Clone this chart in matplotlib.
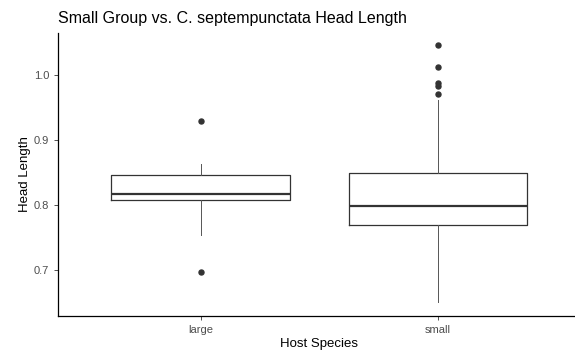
import matplotlib.pyplot as plt

plt.rcParams['font.family'] = ['Liberation Sans', 'DejaVu Sans']

groups = ['large', 'small']
q1 = [0.808, 0.769]
median = [0.817, 0.798]
q3 = [0.846, 0.849]
whisker_low = [0.754, 0.651]
whisker_high = [0.863, 0.9615]
outliers = [[0.929, 0.6965], [1.0457, 1.012, 0.988, 0.983, 0.971]]

stats = []
for i, g in enumerate(groups):
    stats.append(dict(label=g, q1=q1[i], med=median[i], q3=q3[i],
                      whislo=whisker_low[i], whishi=whisker_high[i],
                      fliers=outliers[i]))

fig = plt.figure(figsize=(5.75, 3.54), dpi=100)
ax = fig.add_axes([58 / 575, 38 / 354, (575 - 58) / 575 + 0.01, (316 - 33) / 354])

ax.bxp(stats, positions=[1, 2], widths=0.75, showcaps=False,
       boxprops=dict(color='#333333', linewidth=0.9),
       medianprops=dict(color='#333333', linewidth=1.6),
       whiskerprops=dict(color='#555555', linewidth=0.7),
       flierprops=dict(marker='o', markersize=3.6, markerfacecolor='#333333',
                       markeredgecolor='#333333'))

ax.set_xlim(0.4, 2.6)
ax.set_ylim(0.629, 1.0646)
ax.set_yticks([0.7, 0.8, 0.9, 1.0])
ax.set_yticklabels(['0.7', '0.8', '0.9', '1.0'])
ax.set_xticks([1, 2])
ax.set_xticklabels(groups)

for side in ['top', 'right']:
    ax.spines[side].set_visible(False)
for side in ['left', 'bottom']:
    ax.spines[side].set_linewidth(0.9)
    ax.spines[side].set_color('black')

ax.tick_params(axis='both', colors='#333333', labelcolor='#4D4D4D',
               labelsize=8, length=3, width=0.6)

ax.set_xlabel('Host Species', fontsize=9.5, labelpad=2)
ax.set_ylabel('Head Length', fontsize=9.5, labelpad=2)
ax.set_title('Small Group vs. C. septempunctata Head Length', loc='left',
             fontsize=11.5, pad=7)

fig.savefig('out.png', dpi=100)
